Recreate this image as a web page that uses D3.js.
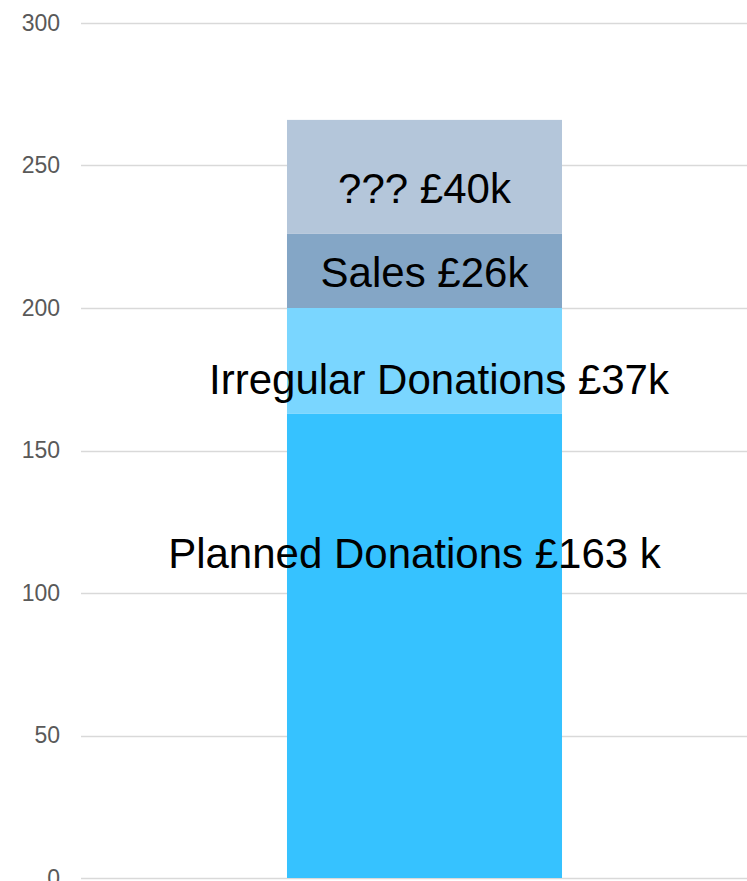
<!DOCTYPE html>
<html>
<head>
<meta charset="utf-8">
<script src="https://cdn.jsdelivr.net/npm/d3@7"></script>
<style>
  body { margin: 0; background: #fff; }
  svg { display: block; }
</style>
</head>
<body>
<div id="chart"></div>
<script>
// segments bottom to top
var categories = ["Planned Donations", "Irregular Donations", "Sales", "???"];
var values = [163, 37, 26, 40];
var labels = ["Planned Donations £163 k", "Irregular Donations £37k", "Sales £26k", "??? £40k"];
var colors = ["#36c2ff", "#7ad6ff", "#84a6c6", "#b4c6da"];
// where each label sits, in chart units
var labelAt = [114, 175, 212.5, 242];
var labelShift = [-10, 14.5, 0, 0];
var yTicks = [0, 50, 100, 150, 200, 250, 300];

renderChart();

function renderChart() {
  var width = 747, height = 881;
  var margin = {top: 23, right: 0, bottom: 3, left: 81};

  var svg = d3.select("#chart")
    .append("svg")
    .attr("width", width)
    .attr("height", height);

  var y = d3.scaleLinear()
    .domain([0, 300])
    .range([height - margin.bottom, margin.top]);

  // plot area runs a little past the right edge of the window
  var x = d3.scaleBand()
    .domain(["total"])
    .range([margin.left, 768])
    .paddingInner(0)
    .paddingOuter(0.749);

  // grid lines
  svg.append("g")
    .selectAll("line")
    .data(yTicks)
    .enter().append("line")
    .attr("x1", margin.left)
    .attr("x2", width)
    .attr("y1", function(d) { return Math.round(y(d)) + 0.5; })
    .attr("y2", function(d) { return Math.round(y(d)) + 0.5; })
    .attr("stroke", "#d9d9d9")
    .attr("stroke-width", 1.5);

  var yAxis = d3.axisLeft(y).tickValues(yTicks).tickSize(0).tickPadding(0);
  svg.append("g")
    .attr("transform", "translate(60,0)")
    .call(yAxis)
    .call(function(g) { g.select(".domain").remove(); })
    .selectAll("text")
    .attr("font-family", "Liberation Sans, Arial, sans-serif")
    .attr("font-size", 23)
    .attr("fill", "#595959");

  var stacked = [];
  var acc = 0;
  values.forEach(function(v, i) {
    stacked.push({name: categories[i], y0: acc, y1: acc + v, i: i});
    acc += v;
  });

  svg.append("g")
    .selectAll("rect")
    .data(stacked)
    .enter().append("rect")
    .attr("x", x("total"))
    .attr("width", x.bandwidth())
    .attr("y", function(d) { return y(d.y1); })
    .attr("height", function(d) { return y(d.y0) - y(d.y1); })
    .attr("fill", function(d) { return colors[d.i]; });

  svg.append("g")
    .selectAll("text")
    .data(stacked)
    .enter().append("text")
    .attr("x", function(d) { return x("total") + x.bandwidth() / 2 + labelShift[d.i]; })
    .attr("y", function(d) { return y(labelAt[d.i]); })
    .attr("dy", "0.355em")
    .attr("text-anchor", "middle")
    .attr("font-family", "Liberation Sans, Arial, sans-serif")
    .attr("font-size", 42)
    .attr("fill", "#000")
    .text(function(d) { return labels[d.i]; });
}
</script>
</body>
</html>
